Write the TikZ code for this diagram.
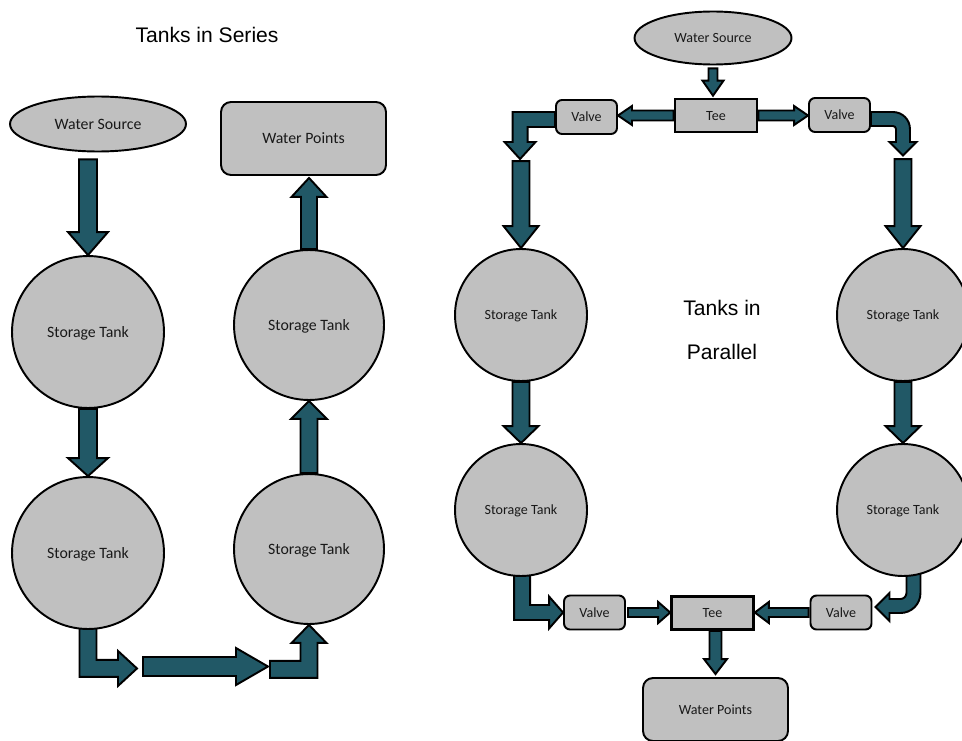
\documentclass[tikz,border=0pt]{standalone}
\usepackage{fontspec}
\setmainfont{Carlito}
\newfontfamily\titlefont{Liberation Sans}
\definecolor{tankgray}{RGB}{192,192,192}
\definecolor{flowteal}{RGB}{33,88,102}
\usetikzlibrary{calc,shapes.geometric}
\pgfdeclarelayer{background}
\pgfsetlayers{background,main}

% block arrow: shaft half width, head half width, head length (px), from, to
\newcommand{\flowarrow}[5]{%
  \draw[flowarr] let \p1=(#4), \p2=(#5), \p3=($(\p2)!#3*0.02cm!(\p1)$) in
    ($(\p1)!#1*0.02cm!90:(\p2)$) -- ($(\p3)!#1*0.02cm!90:(\p2)$)
    -- ($(\p3)!#2*0.02cm!90:(\p2)$) -- (\p2)
    -- ($(\p3)!#2*0.02cm!-90:(\p2)$) -- ($(\p3)!#1*0.02cm!-90:(\p2)$)
    -- ($(\p1)!#1*0.02cm!-90:(\p2)$) -- cycle;}

\begin{document}
\begin{tikzpicture}[x=0.02cm, y=0.02cm,
    flowarr/.style={fill=flowteal, draw=black, line width=1.1pt, line join=miter},
    unit/.style={fill=tankgray, draw=black, line width=1.1pt, inner sep=0pt, text=black!90, text depth=0pt},
    source/.style={unit, ellipse},
    tank/.style={unit, circle},
    outlet/.style={unit, rectangle, rounded corners=0.2cm},
    valve/.style={unit, rectangle, rounded corners=0.12cm, minimum width=1.22cm, minimum height=0.68cm, font=\fontsize{8}{10}\selectfont},
    tee/.style={unit, rectangle, line width=1.5pt, minimum width=1.64cm, minimum height=0.66cm, font=\fontsize{8}{10}\selectfont},
    heading/.style={font=\titlefont\fontsize{12}{25}\selectfont, align=center, inner sep=0pt}]
\useasboundingbox (0,0) rectangle (962,-740);

% Tanks in series
\node[heading] (titleS) at (207,-35) {Tanks in Series};
\node[source, minimum width=3.52cm, minimum height=1.1cm, font=\fontsize{9}{11}\selectfont] (wsL) at (98,-124) {Water Source};
\node[outlet, minimum width=3.3cm, minimum height=1.46cm, font=\fontsize{9}{11}\selectfont] (wpL) at (303.5,-138.5) {Water Points};
\foreach \name/\x/\y in {tk1/88/-332, tk2/88/-553}
  \node[tank, minimum size=3.04cm, font=\fontsize{9}{11}\selectfont] (\name) at (\x,\y) {Storage Tank};
\foreach \name/\x/\y in {tk3/309/-549, tk4/309/-325}
  \node[tank, minimum size=3.0cm, font=\fontsize{9}{11}\selectfont] (\name) at (\x,\y) {Storage Tank};
\coordinate (busA) at (143,-666.5);
\coordinate (busB) at (268,-666.5);

% Tanks in parallel
\node[heading] (titleP) at (722,-330) {Tanks in\\Parallel};
\node[source, minimum width=3.14cm, minimum height=1.06cm, font=\fontsize{8}{10}\selectfont] (wsR) at (713,-38) {Water Source};
\node[tee] (teeT) at (716,-115.5) {Tee};
\node[valve] (vTL) at (586.5,-117) {Valve};
\node[valve] (vTR) at (839.5,-115) {Valve};
\foreach \name/\x/\y in {tkPL1/521/-315, tkPL2/521/-510, tkPR1/903/-315, tkPR2/903/-510}
  \node[tank, minimum size=2.64cm, font=\fontsize{8}{10}\selectfont] (\name) at (\x,\y) {Storage Tank};
\node[valve] (vBL) at (594.5,-612.5) {Valve};
\node[tee] (teeB) at (712.5,-613) {Tee};
\node[valve] (vBR) at (841,-612.5) {Valve};
\node[outlet, minimum width=2.9cm, minimum height=1.26cm, font=\fontsize{8}{10}\selectfont] (wpR) at (715.5,-709.5) {Water Points};

\begin{pgfonlayer}{background}
% series flow
\flowarrow{9}{20}{23}{$(tk1.north |- wsL.south)+(0,-7)$}{tk1.north}
\flowarrow{9}{20}{18}{tk1.south}{tk2.north}
\draw[flowarr] ($(tk2.south)+(-8.5,4)$) -- ++(0,-51) -- ++(38.5,0) -- ++(0,-9)
  -- ++(19,17.5) -- ++(-19,17.5) -- ++(0,-9) -- ++(-21.5,0) -- ++(0,34) -- cycle;
\flowarrow{9.5}{18.5}{32}{busA}{busB}
\draw[flowarr] (tk3.south) -- ++(17.5,-18) -- ++(-9,0) -- ++(0,-35) -- ++(-47.5,0)
  -- ++(0,17) -- ++(30.5,0) -- ++(0,18) -- ++(-9,0) -- cycle;
\flowarrow{8.5}{18}{18}{tk3.north}{tk4.south}
\flowarrow{8}{17.5}{19}{tk4.north}{$(tk4.north |- wpL.south)+(0,-2)$}

% parallel flow, top
\flowarrow{4.5}{10.5}{15}{$(wsR.south)+(0,-3)$}{$(wsR.south |- teeT.north)+(0,2)$}
\flowarrow{5}{9.5}{14}{teeT.west}{vTL.east |- teeT.west}
\flowarrow{5}{9.5}{14}{teeT.east}{vTR.west |- teeT.east}
\draw[flowarr] ($(vTL.west)+(0,5)$) -- ++(-42.5,0) -- ++(0,-30) -- ++(-8,0)
  -- ++(15.5,-17) -- ++(15.5,17) -- ++(-8,0) -- ++(0,15) -- ++(27.5,0) -- cycle;
\draw[flowarr] ($(vTR.east)+(0,3)$) -- ++(22,0) arc[start angle=90, end angle=0, radius=17]
  -- ++(0,-13) -- ++(6.5,0) -- ++(-13.5,-13.5) -- ++(-13.5,13.5) -- ++(6.5,0) -- ++(0,13)
  arc[start angle=0, end angle=90, radius=3] -- ++(-22,0) -- cycle;
\flowarrow{8.5}{17.5}{22}{$(tkPL1.north)+(0,87)$}{tkPL1.north}
\flowarrow{8.5}{17.5}{22}{$(tkPR1.north)+(0,89)$}{tkPR1.north}
\flowarrow{8.5}{17.5}{17}{tkPL1.south}{tkPL2.north}
\flowarrow{8.5}{17.5}{17}{tkPR1.south}{tkPR2.north}

% parallel flow, bottom
\draw[flowarr] (vBL.west) -- ++(-14,-16) -- ++(0,8.5) -- ++(-35,0) -- ++(0,50) -- ++(16,0)
  -- ++(0,-35) -- ++(19,0) -- ++(0,8.5) -- cycle;
\draw[flowarr] ($(vBR.east)+(3,5.5)$) -- ++(14,14) -- ++(0,-6) -- ++(11,0)
  arc[start angle=-90, end angle=0, radius=6] -- ++(0,21) -- ++(14,0) -- ++(0,-21)
  arc[start angle=0, end angle=-90, radius=20] -- ++(-11,0) -- ++(0,-8) -- cycle;
\flowarrow{4.5}{10.5}{12}{$(vBL.east)+(2,0)$}{teeB.west |- vBL.east}
\flowarrow{4.5}{10.5}{14}{$(vBR.west)+(-1,0)$}{teeB.east |- vBR.west}
\flowarrow{6}{11.5}{15}{wpR.north |- teeB.south}{$(wpR.north)+(0,3)$}
\end{pgfonlayer}
\end{tikzpicture}
\end{document}
